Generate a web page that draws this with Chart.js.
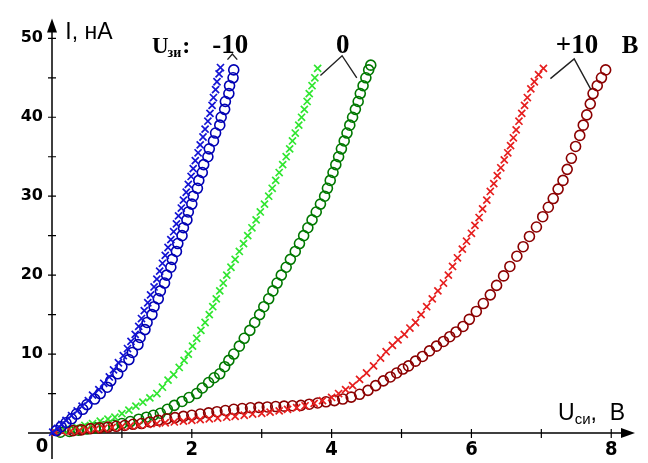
<!DOCTYPE html>
<html>
<head>
<meta charset="utf-8">
<script src="https://cdn.jsdelivr.net/npm/chart.js@4.4.1/dist/chart.umd.min.js"></script>
<style>
  html, body { margin: 0; padding: 0; background: #fff; }
  #wrap { width: 648px; height: 463px; }
</style>
</head>
<body>
<div id="wrap"><canvas id="grafica"></canvas></div>
<script>
// Uзи = -10 B
const blueCircles = [[0.06,0.3],[0.13,0.8],[0.2,1.3],[0.28,1.8],[0.35,2.4],[0.44,3],[0.5,3.6],[0.61,4.3],[0.69,5],[0.79,5.8],[0.84,6.6],[0.94,7.5],[1.0,8.4],[1.1,9.3],[1.15,10.2],[1.23,11.2],[1.26,12.1],[1.33,13.1],[1.36,14],[1.43,15],[1.46,16],[1.52,17],[1.55,18],[1.61,19],[1.64,20],[1.7,21],[1.72,22],[1.78,23],[1.8,24],[1.86,25],[1.88,26],[1.93,27],[1.95,28],[2.0,29],[2.02,30],[2.08,31],[2.1,32],[2.15,33],[2.17,34],[2.23,35],[2.25,36],[2.31,37],[2.34,38],[2.4,39],[2.42,40],[2.47,41],[2.48,42],[2.53,43],[2.54,44],[2.59,45],[2.6,46]];
const blueCrosses = [[0.01,0.1],[0.08,0.6],[0.14,1.1],[0.2,1.6],[0.28,2.2],[0.36,2.8],[0.43,3.4],[0.52,4.1],[0.58,4.8],[0.67,5.5],[0.74,6.3],[0.82,7.1],[0.88,8],[0.95,8.9],[1.02,9.8],[1.08,10.7],[1.13,11.6],[1.19,12.5],[1.24,13.5],[1.28,14.5],[1.32,15.5],[1.37,16.5],[1.41,17.5],[1.46,18.5],[1.5,19.5],[1.54,20.5],[1.58,21.5],[1.62,22.5],[1.66,23.5],[1.7,24.5],[1.74,25.5],[1.78,26.5],[1.81,27.5],[1.85,28.5],[1.88,29.5],[1.92,30.5],[1.95,31.5],[1.99,32.5],[2.02,33.5],[2.05,34.5],[2.09,35.5],[2.12,36.5],[2.16,37.5],[2.19,38.5],[2.23,39.5],[2.26,40.5],[2.29,41.5],[2.31,42.5],[2.34,43.5],[2.36,44.5],[2.39,45.5],[2.41,46.3]];

// Uзи = 0 B
const greenCrosses = [[0.05,0.1],[0.15,0.3],[0.25,0.5],[0.36,0.7],[0.47,0.95],[0.58,1.2],[0.69,1.5],[0.8,1.75],[0.9,2.0],[1.0,2.45],[1.1,2.9],[1.2,3.4],[1.3,3.9],[1.4,4.45],[1.5,5.0],[1.58,5.8],[1.66,6.7],[1.74,7.4],[1.82,8.3],[1.89,9.2],[1.95,10],[2.01,11],[2.07,12],[2.13,13],[2.19,14],[2.25,15],[2.3,16],[2.35,17],[2.4,18],[2.45,19],[2.5,20],[2.56,21],[2.62,22],[2.68,23],[2.74,24],[2.8,25],[2.86,26],[2.92,27],[2.98,28],[3.04,29],[3.1,30],[3.15,31],[3.2,32],[3.25,33],[3.3,34],[3.35,35],[3.4,36],[3.44,37],[3.48,38],[3.53,39],[3.57,40],[3.61,41],[3.65,42],[3.68,43],[3.72,44],[3.76,45],[3.8,46.2]];
const greenCircles = [[0.12,0.1],[0.25,0.2],[0.38,0.35],[0.5,0.5],[0.62,0.65],[0.75,0.8],[0.88,1.0],[1.0,1.2],[1.12,1.45],[1.24,1.75],[1.35,2.0],[1.45,2.25],[1.55,2.5],[1.65,3.0],[1.75,3.5],[1.86,4.0],[1.96,4.5],[2.07,5.0],[2.15,5.7],[2.24,6.4],[2.32,7.0],[2.4,7.5],[2.47,8.4],[2.53,9.2],[2.6,10],[2.68,11],[2.75,12],[2.83,13],[2.9,14],[2.97,15],[3.03,16],[3.1,17],[3.16,18],[3.22,19],[3.28,20],[3.35,21],[3.41,22],[3.48,23],[3.54,24],[3.6,25],[3.66,26],[3.72,27],[3.78,28],[3.84,29],[3.9,30],[3.94,31],[3.98,32],[4.02,33],[4.06,34],[4.1,35],[4.14,36],[4.18,37],[4.22,38],[4.26,39],[4.3,40],[4.34,41],[4.38,42],[4.41,43],[4.45,44],[4.49,45],[4.53,46],[4.56,46.6]];

// Uзи = +10 B
const redCrosses = [[0.05,0.05],[0.15,0.15],[0.27,0.25],[0.39,0.3],[0.5,0.4],[0.62,0.5],[0.74,0.6],[0.86,0.7],[1.0,0.8],[1.12,0.9],[1.24,1.0],[1.37,1.1],[1.5,1.2],[1.62,1.3],[1.75,1.4],[1.88,1.5],[2.0,1.6],[2.12,1.7],[2.25,1.8],[2.37,1.9],[2.5,2.0],[2.62,2.1],[2.75,2.25],[2.87,2.4],[3.0,2.5],[3.12,2.65],[3.25,2.8],[3.37,3.0],[3.5,3.2],[3.62,3.45],[3.75,3.75],[3.87,4.1],[4.0,4.5],[4.1,5.0],[4.2,5.5],[4.3,6.0],[4.4,6.8],[4.5,7.6],[4.6,8.5],[4.7,9.5],[4.78,10.3],[4.87,11.1],[4.95,11.8],[5.04,12.5],[5.12,13.3],[5.2,14],[5.28,15],[5.36,16],[5.44,17],[5.52,18],[5.6,19],[5.67,20],[5.73,21.1],[5.8,22.2],[5.87,23.3],[5.93,24.3],[6.0,25.3],[6.05,26.3],[6.11,27.3],[6.16,28.4],[6.22,29.5],[6.27,30.6],[6.32,31.6],[6.37,32.6],[6.42,33.6],[6.47,34.6],[6.52,35.5],[6.56,36.4],[6.6,37.4],[6.64,38.4],[6.68,39.5],[6.72,40.5],[6.76,41.5],[6.8,42.5],[6.85,43.6],[6.9,44.5],[6.96,45.4],[7.03,46.2]];
const redCircles = [[0.3,0.3],[0.42,0.4],[0.55,0.55],[0.68,0.65],[0.8,0.75],[0.92,0.85],[1.04,0.95],[1.16,1.1],[1.28,1.2],[1.4,1.4],[1.52,1.6],[1.64,1.8],[1.76,1.95],[1.88,2.1],[2.0,2.25],[2.12,2.4],[2.24,2.55],[2.36,2.7],[2.48,2.85],[2.6,3.0],[2.72,3.1],[2.84,3.2],[2.96,3.25],[3.08,3.3],[3.2,3.35],[3.32,3.4],[3.44,3.45],[3.56,3.5],[3.68,3.65],[3.8,3.8],[3.92,3.95],[4.04,4.1],[4.16,4.3],[4.28,4.55],[4.4,4.9],[4.52,5.4],[4.63,6.0],[4.74,6.6],[4.84,7.1],[4.93,7.6],[5.02,8.1],[5.1,8.5],[5.2,9.1],[5.3,9.7],[5.4,10.4],[5.5,11.0],[5.6,11.6],[5.69,12.2],[5.78,12.8],[5.88,13.5],[5.97,14.4],[6.07,15.4],[6.17,16.4],[6.27,17.5],[6.36,18.7],[6.46,19.9],[6.55,21.1],[6.65,22.4],[6.74,23.6],[6.83,24.9],[6.93,26.1],[7.02,27.4],[7.1,28.6],[7.17,29.7],[7.24,30.9],[7.31,32],[7.37,33.4],[7.43,34.8],[7.49,36.3],[7.55,37.7],[7.6,39],[7.65,40.3],[7.7,41.7],[7.74,43],[7.8,44],[7.86,45],[7.92,46]];

const xTicks = [0, 1, 2, 3, 4, 5, 6, 7, 8];
const xTickLabels = ['', '', '2', '', '4', '', '6', '', '8'];
const yTicks = [0, 5, 10, 15, 20, 25, 30, 35, 40, 45, 50];
const yTickLabels = ['', '', '10', '', '20', '', '30', '', '40', '', '50'];

const toXY = arr => arr.map(p => ({ x: p[0], y: p[1] }));

function serie(data, color, style) {
    return {
        data: toXY(data),
        pointStyle: style,
        pointRadius: style === 'circle' ? 5 : 5,
        pointBorderWidth: style === 'circle' ? 1.6 : 1.7,
        pointBorderColor: color,
        pointBackgroundColor: 'rgba(0,0,0,0)',
        showLine: false,
        clip: false
    };
}

// ejes con flechas y marcas cruzadas, como en el original
const ejes = {
    id: 'ejes',
    beforeDatasetsDraw(chart) {
        const { ctx, scales: { x, y } } = chart;
        const x0 = x.getPixelForValue(0);
        const y0 = y.getPixelForValue(0);
        const xEnd = x.right;
        const yEnd = y.top;
        ctx.save();
        ctx.strokeStyle = '#000';
        ctx.fillStyle = '#000';
        ctx.lineWidth = 1.5;
        ctx.beginPath();
        ctx.moveTo(x0 - 24, y0);
        ctx.lineTo(xEnd - 8, y0);
        ctx.moveTo(x0, y0 + 26);
        ctx.lineTo(x0, yEnd + 8);
        ctx.stroke();
        ctx.beginPath();
        ctx.moveTo(xEnd, y0);
        ctx.lineTo(xEnd - 14, y0 - 5);
        ctx.lineTo(xEnd - 14, y0 + 5);
        ctx.closePath();
        ctx.fill();
        ctx.beginPath();
        ctx.moveTo(x0, yEnd);
        ctx.lineTo(x0 - 5, yEnd + 14);
        ctx.lineTo(x0 + 5, yEnd + 14);
        ctx.closePath();
        ctx.fill();
        ctx.lineWidth = 1.2;
        ctx.beginPath();
        xTicks.forEach(v => {
            if (v === 0) return;
            const px = x.getPixelForValue(v);
            ctx.moveTo(px, y0 - 4);
            ctx.lineTo(px, y0 + 5);
        });
        yTicks.forEach(v => {
            if (v === 0) return;
            const py = y.getPixelForValue(v);
            ctx.moveTo(x0 - 4, py);
            ctx.lineTo(x0 + 4, py);
        });
        ctx.stroke();
        ctx.font = 'bold 20px "Liberation Sans Narrow", "DejaVu Sans Condensed", sans-serif';
        ctx.textAlign = 'center';
        ctx.textBaseline = 'middle';
        ctx.fillText('0', x0 - 10, y0 + 14);
        ctx.restore();
    },
    afterDraw(chart) {
        const { ctx, scales: { x, y } } = chart;
        const X = v => x.getPixelForValue(v);
        const Y = v => y.getPixelForValue(v);
        ctx.save();
        ctx.fillStyle = '#000';
        ctx.strokeStyle = '#222';
        ctx.textBaseline = 'alphabetic';

        // títulos de los ejes
        ctx.font = '23px "Liberation Sans", Arial, sans-serif';
        ctx.textAlign = 'left';
        ctx.fillText('I, нА', X(0.19), Y(49.9));
        let px = X(7.24);
        ctx.fillText('U', px, Y(1.6));
        px += ctx.measureText('U').width;
        ctx.font = '15px "Liberation Sans", Arial, sans-serif';
        ctx.fillText('си', px, Y(1.2));
        px += ctx.measureText('си').width;
        ctx.font = '23px "Liberation Sans", Arial, sans-serif';
        ctx.fillText(',  B', px, Y(1.6));

        // Uзи: -10   0   +10  B
        ctx.font = 'bold 23px "Liberation Serif", "Times New Roman", serif';
        px = X(1.43);
        ctx.fillText('U', px, Y(48.2));
        px += ctx.measureText('U').width - 1;
        ctx.font = 'bold 14px "Liberation Serif", "Times New Roman", serif';
        ctx.fillText('зи', px, Y(47.6));
        px += ctx.measureText('зи').width + 1;
        ctx.font = 'bold 24px "Liberation Serif", "Times New Roman", serif';
        ctx.fillText(':', px, Y(48.2));
        ctx.textAlign = 'center';
        ctx.font = 'bold 27px "Liberation Serif", "Times New Roman", serif';
        ctx.fillText('-10', X(2.55), Y(48.2));
        ctx.fillText('0', X(4.16), Y(48.2));
        ctx.fillText('+10', X(7.51), Y(48.2));
        ctx.font = 'bold 25px "Liberation Serif", "Times New Roman", serif';
        ctx.fillText('B', X(8.27), Y(48.2));

        // trazos que unen cada rótulo con sus curvas
        ctx.lineWidth = 1.4;
        ctx.beginPath();
        ctx.moveTo(X(2.51), Y(47.3));
        ctx.lineTo(X(2.58), Y(48.0));
        ctx.lineTo(X(2.65), Y(47.3));
        ctx.moveTo(X(3.84), Y(45.3));
        ctx.lineTo(X(4.15), Y(47.8));
        ctx.lineTo(X(4.36), Y(45.0));
        ctx.moveTo(X(7.13), Y(44.9));
        ctx.lineTo(X(7.47), Y(47.4));
        ctx.lineTo(X(7.71), Y(43.5));
        ctx.stroke();
        ctx.restore();
    }
};

const fuenteTicks = { family: '"DejaVu Sans", sans-serif', size: 16, weight: 'bold' };

new Chart(document.getElementById('grafica').getContext('2d'), {
    type: 'scatter',
    data: {
        datasets: [
            serie(blueCrosses, '#1414d4', 'crossRot'),
            serie(blueCircles, '#0000b4', 'circle'),
            serie(redCrosses, '#e61e1e', 'crossRot'),
            serie(redCircles, '#8b0000', 'circle'),
            serie(greenCrosses, '#30e630', 'crossRot'),
            serie(greenCircles, '#007800', 'circle')
        ]
    },
    options: {
        responsive: true,
        maintainAspectRatio: false,
        animation: false,
        layout: { padding: { top: 12, right: 13, left: 0, bottom: 0 } },
        plugins: { legend: { display: false }, tooltip: { enabled: false } },
        scales: {
            x: {
                type: 'linear',
                min: 0,
                max: 8.34,
                afterBuildTicks: s => { s.ticks = xTicks.map(v => ({ value: v })); },
                afterFit: s => { s.height = 30; },
                ticks: {
                    autoSkip: false,
                    maxRotation: 0,
                    padding: 5,
                    color: '#000',
                    font: { family: '"Liberation Sans Narrow", "DejaVu Sans Condensed", sans-serif', size: 20, weight: 'bold' },
                    callback: (v, i) => xTickLabels[i]
                },
                grid: { display: false, drawTicks: false },
                border: { display: false }
            },
            y: {
                type: 'linear',
                min: 0,
                max: 52.5,
                afterBuildTicks: s => { s.ticks = yTicks.map(v => ({ value: v })); },
                afterFit: s => { s.width = 52; },
                ticks: {
                    autoSkip: false,
                    padding: 9,
                    color: '#000',
                    font: fuenteTicks,
                    callback: (v, i) => yTickLabels[i]
                },
                grid: { display: false, drawTicks: false },
                border: { display: false }
            }
        }
    },
    plugins: [ejes]
});
</script>
</body>
</html>
